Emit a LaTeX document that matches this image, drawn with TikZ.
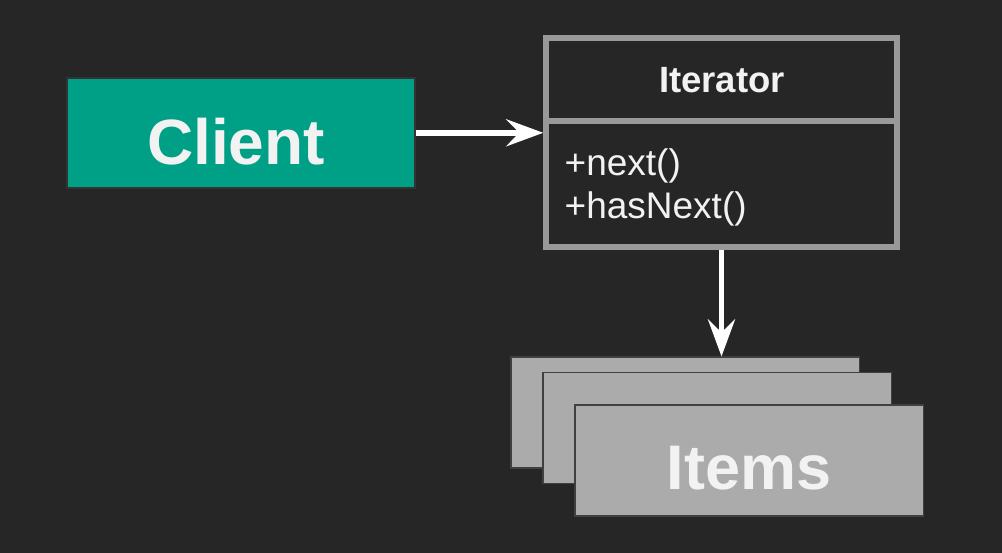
\documentclass[tikz,border=0pt]{standalone}
\usepackage{fontspec}
\setmainfont{Liberation Sans}
\usetikzlibrary{arrows.meta}
\definecolor{bg}{HTML}{262626}
\definecolor{clientfill}{HTML}{00A087}
\definecolor{clientborder}{HTML}{333333}
\definecolor{iterborder}{HTML}{999999}
\definecolor{itemfill}{HTML}{ABABAB}
\definecolor{itemborder}{HTML}{404040}
\definecolor{txt}{HTML}{F2F2F2}
\tikzset{
  clientbox/.style={draw=clientborder, fill=clientfill, line width=2pt, minimum width=348pt, minimum height=110pt, inner sep=0pt},
  iterbox/.style={draw=iterborder, fill=bg, line width=5.5pt, minimum width=351pt, minimum height=209pt, inner sep=0pt},
  itembox/.style={draw=itemborder, fill=itemfill, line width=1.5pt, minimum width=348.5pt, minimum height=111pt, inner sep=0pt},
  lbl/.style={text=txt, inner sep=0pt, anchor=base},
  arr/.style={draw=white, line width=5.5pt, -{Stealth[length=37pt, width=27pt, inset=13pt]}},
}
\begin{document}
\begin{tikzpicture}[x=1pt, y=-1pt]
\fill[bg] (0,0) rectangle (1002,553);
\useasboundingbox (0,0) rectangle (1002,553);

% Client
\node[clientbox] (client) at (240.6,132.8) {};
\node[lbl, font=\bfseries\fontsize{64}{70}\selectfont] (clientlbl) at (236,165) {Client};

% Iterator
\node[iterbox] (iter) at (721.5,142.6) {};
\coordinate (div) at (0,121);
\draw[iterborder, line width=5.5pt] (iter.west |- div) -- (iter.east |- div);
\node[lbl, font=\bfseries\fontsize{36.5}{40}\selectfont] (itertitle) at (722,92.7) {Iterator};
\node[lbl, anchor=base west, font=\fontsize{37}{40}\selectfont] (m1) at (564.5,175.5) {+next()};
\node[lbl, anchor=base west, font=\fontsize{37}{40}\selectfont] (m2) at (564.5,218.5) {+hasNext()};

% Items stack
\node[itembox] (items1) at (685.35,412.7) {};
\node[itembox] (items2) at (717.3,428.2) {};
\node[itembox] (items3) at (749.2,460.35) {};
\node[lbl, font=\bfseries\fontsize{63}{70}\selectfont] (itemslbl) at (749,489.3) {Items};

% Connectors
\draw[arr] (client.east) -- (client.east -| iter.west);
\draw[arr] (iter.south) -- (iter.south |- items1.north);
\end{tikzpicture}
\end{document}
